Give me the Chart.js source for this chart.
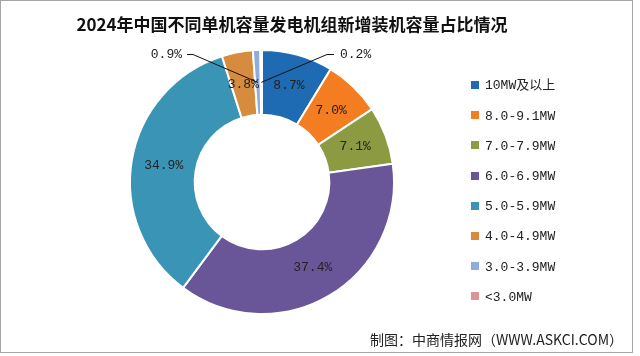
<!DOCTYPE html>
<html><head><meta charset="utf-8">
<script src="https://cdn.jsdelivr.net/npm/chart.js@4.4.0/dist/chart.umd.min.js"></script>
<style>html,body{margin:0;padding:0;background:#fff}#wrap{width:640px;height:356px;position:relative}</style>
</head><body><div id="wrap"><canvas id="c" width="640" height="356"></canvas></div>
<script>
const chartTitle = '2024年中国不同单机容量发电机组新增装机容量占比情况';
const categories = ['10MW及以上','8.0-9.1MW','7.0-7.9MW','6.0-6.9MW','5.0-5.9MW','4.0-4.9MW','3.0-3.9MW','<3.0MW'];
const shares = [8.7, 7.0, 7.1, 37.4, 34.9, 3.8, 0.9, 0.2];
const colors = ['#1f6bb3','#f47c21','#8c9b42','#695699','#3a94b6','#d78b3f','#91acd9','#d99694'];
const sourceText = '制图：中商情报网（WWW.ASKCI.COM）';

const labelFont = '13px "Liberation Mono", "Noto Sans CJK SC", monospace';

const deco = {
  id: 'deco',
  beforeDraw(chart) {
    const ctx = chart.ctx;
    ctx.save();
    ctx.fillStyle = '#ffffff';
    ctx.fillRect(0, 0, chart.width, chart.height);
    ctx.strokeStyle = '#a6a6a6';
    ctx.lineWidth = 1;
    ctx.strokeRect(0.5, 0.5, 632, 352);
    ctx.restore();
  },
  afterDraw(chart) {
    const ctx = chart.ctx;
    ctx.save();
    // title
    ctx.fillStyle = '#111';
    ctx.font = 'bold 17px "Noto Sans CJK SC", sans-serif';
    ctx.textAlign = 'center';
    ctx.textBaseline = 'middle';
    ctx.fillText(chartTitle, 292, 25);
    // legend
    const ds = chart.data.datasets[0];
    ctx.font = labelFont;
    ctx.textAlign = 'left';
    chart.data.labels.forEach((lab, i) => {
      const y = 85 + i * 30.2;
      ctx.fillStyle = ds.backgroundColor[i];
      ctx.fillRect(471, Math.round(y - 4), 8, 8);
      ctx.fillStyle = '#222';
      ctx.fillText(lab, 485, y + 1);
    });
    // source
    ctx.font = '14px "Noto Sans CJK SC", sans-serif';
    ctx.textAlign = 'right';
    ctx.fillStyle = '#222';
    ctx.fillText(sourceText, 623, 340);
    // data labels
    const meta = chart.getDatasetMeta(0);
    ctx.font = labelFont;
    ctx.strokeStyle = '#111';
    ctx.lineWidth = 1;
    meta.data.forEach((arc, i) => {
      const p = arc.tooltipPosition();
      const cx = arc.x, cy = arc.y;
      const txt = ds.data[i].toFixed(1) + '%';
      ctx.fillStyle = '#222';
      if (i === 6) {
        ctx.textAlign = 'right';
        ctx.fillText(txt, cx - 80, cy - 127);
        ctx.beginPath();
        ctx.moveTo(cx - 75, cy - 127.5);
        ctx.lineTo(cx - 69, cy - 127.5);
        ctx.lineTo(p.x, p.y);
        ctx.stroke();
      } else if (i === 7) {
        ctx.textAlign = 'left';
        ctx.fillText(txt, cx + 78, cy - 127);
        ctx.beginPath();
        ctx.moveTo(cx + 72, cy - 127.5);
        ctx.lineTo(cx + 65, cy - 127.5);
        ctx.lineTo(p.x, p.y);
        ctx.stroke();
      } else {
        ctx.textAlign = 'center';
        ctx.fillText(txt, p.x, p.y);
      }
    });
    ctx.restore();
  }
};

new Chart(document.getElementById('c'), {
  type: 'doughnut',
  data: {
    labels: categories,
    datasets: [{
      data: shares,
      backgroundColor: colors,
      borderColor: '#ffffff',
      borderWidth: 2,
      hoverOffset: 0
    }]
  },
  options: {
    responsive: false,
    animation: false,
    cutout: '51%',
    layout: { padding: { left: 129, right: 245, top: 49, bottom: 41 } },
    plugins: {
      legend: { display: false },
      title: { display: false },
      tooltip: { enabled: false }
    },
    events: []
  },
  plugins: [deco]
});
</script>
</body></html>
